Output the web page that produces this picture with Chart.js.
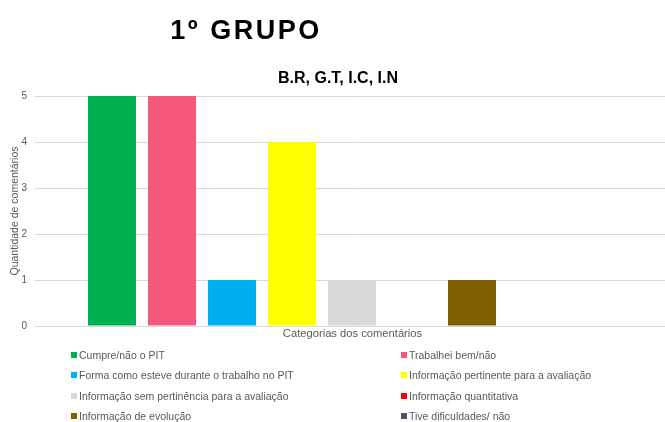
<!DOCTYPE html>
<html>
<head>
<meta charset="utf-8">
<script src="https://cdn.jsdelivr.net/npm/chart.js@4.4.1/dist/chart.umd.min.js"></script>
<style>
  html, body { margin: 0; padding: 0; background: #fff; }
  #wrap { position: relative; width: 665px; height: 422px; overflow: hidden; font-family: "Liberation Sans", Arial, sans-serif; }
  #chart { position: absolute; left: 0; top: 0; }
  #heading { position: absolute; left: 0; width: 492px; top: 15px; text-align: center; font-size: 27px; font-weight: bold; letter-spacing: 2.5px; color: #000; }
  #legend { position: absolute; left: 0; top: 0; width: 665px; height: 422px; pointer-events: none; }
  .item { position: absolute; font-size: 10.5px; color: #595959; white-space: nowrap; line-height: 12px; }
  .item i { display: inline-block; width: 6px; height: 6px; margin-right: 2px; vertical-align: 1px; }
</style>
</head>
<body>
<div id="wrap">
  <canvas id="chart" width="665" height="422"></canvas>
  <div id="heading">1º GRUPO</div>
  <div id="legend"></div>
</div>
<script>
const categories = [
  "Cumpre/não o PIT",
  "Trabalhei bem/não",
  "Forma como esteve durante o trabalho no PIT",
  "Informação pertinente para a avaliação",
  "Informação sem pertinência para a avaliação",
  "Informação quantitativa",
  "Informação de evolução",
  "Tive dificuldades/ não"
];
const counts = [5, 5, 1, 4, 1, 0, 1, 0];
const colors = ["#00b050", "#f5587b", "#00b0f0", "#ffff00", "#d9d9d9", "#ff0000", "#7f6000", "#44546a"];
const yTicks = [0, 1, 2, 3, 4, 5];

const gridColor = "#d9d9d9";
const textColor = "#595959";

const datasets = categories.map((name, i) => ({
  label: name,
  data: [{ x: i + 1, y: counts[i] }],
  backgroundColor: colors[i],
  borderWidth: 0,
  inflateAmount: 0,
  barThickness: 48,
  grouped: false
}));

const chart = new Chart(document.getElementById("chart"), {
  type: "bar",
  data: { datasets },
  options: {
    responsive: false,
    animation: false,
    devicePixelRatio: 1,
    layout: { padding: { left: 11, right: 0, top: 0, bottom: 80 } },
    plugins: {
      legend: { display: false },
      tooltip: { enabled: false },
      title: {
        display: true,
        text: "B.R, G.T, I.C, I.N",
        color: "#000",
        font: { family: "Liberation Sans", size: 16, weight: "bold" },
        padding: { top: 69, bottom: 7.8 }
      }
    },
    scales: {
      x: {
        type: "linear",
        offset: false,
        min: -0.2,
        max: 10.2167,
        grid: { display: false },
        border: { display: false },
        ticks: { display: false },
        title: {
          display: true,
          text: "Categorias dos comentários",
          color: textColor,
          font: { family: "Liberation Sans", size: 11.2 },
          padding: { top: 0, bottom: 1 }
        },
        afterFit: (s) => { s.height = 16; }
      },
      y: {
        min: 0,
        max: 5,
        afterBuildTicks: (s) => { s.ticks = yTicks.map((v) => ({ value: v })); },
        grid: { color: gridColor, tickLength: 5 },
        border: { display: false },
        ticks: { color: textColor, padding: 8, font: { family: "Liberation Sans", size: 10 } },
        title: {
          display: true,
          text: "Quantidade de comentários",
          color: textColor,
          font: { family: "Liberation Sans", size: 10.5 },
          padding: { top: -2, bottom: 0 }
        },
        afterFit: (s) => { s.width = 29; }
      }
    }
  }
});

// two-column legend below the plot
const legend = document.getElementById("legend");
categories.forEach((name, i) => {
  const col = i % 2, row = Math.floor(i / 2);
  const d = document.createElement("div");
  d.className = "item";
  d.style.left = (col ? 401 : 71) + "px";
  d.style.top = (348.5 + row * 20.6) + "px";
  const sw = document.createElement("i");
  sw.style.background = colors[i];
  d.append(sw, document.createTextNode(name));
  legend.append(d);
});
</script>
</body>
</html>
